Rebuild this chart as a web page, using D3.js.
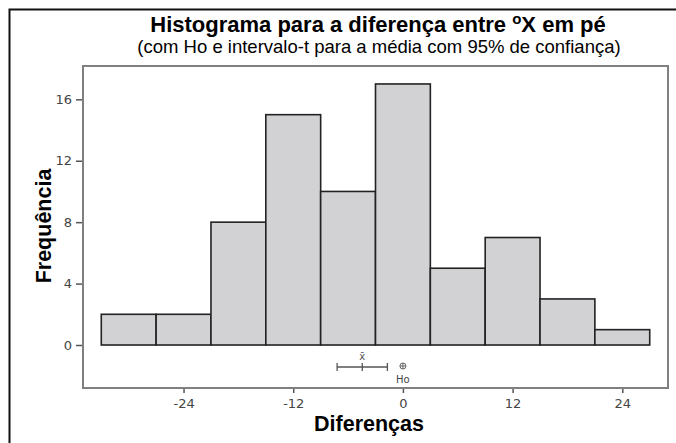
<!DOCTYPE html>
<html>
<head>
<meta charset="utf-8">
<script src="https://cdn.jsdelivr.net/npm/d3@7"></script>
<style>
  body { margin: 0; background: #fff; }
  svg { display: block; }
</style>
</head>
<body>
<svg id="chart" width="676" height="443"></svg>
<script>
// Histogram data (bin edges and counts).
const binEdges = [-33, -27, -21, -15, -9, -3, 3, 9, 15, 21, 27];
const counts = [2, 2, 8, 15, 10, 17, 5, 7, 3, 1];
const xTicks = [-24, -12, 0, 12, 24];
const yTicks = [0, 4, 8, 12, 16];
// t-interval for the mean and the null hypothesis value.
const ciLow = -7.2, ciMean = -4.45, ciHigh = -1.7;
const h0 = 0;

(function () {
  const svg = d3.select("#chart");
  const left = 83, right = 668, top = 66, bottom = 388;

  const x = d3.scaleLinear().domain([-35, 29]).range([left, right]);
  const y = d3.scaleLinear().domain([-2.8, 18.17]).range([bottom, top]);

  // Outer border of the figure.
  svg.append("path")
    .attr("d", "M9.5,443 L9.5,9.5 L676,9.5")
    .attr("fill", "none")
    .attr("stroke", "#111")
    .attr("stroke-width", 2);

  // Titles.
  const title = svg.append("text")
    .attr("x", 378)
    .attr("y", 32)
    .attr("text-anchor", "middle")
    .style("font-family", "'Liberation Sans', Arial, sans-serif")
    .style("font-weight", "bold")
    .style("font-size", "22px")
    .attr("fill", "#000");
  title.append("tspan").text("Histograma para a diferença entre ");
  title.append("tspan").attr("dy", -8).style("font-size", "15px").text("o");
  title.append("tspan").attr("dy", 8).text("X em pé");

  svg.append("text")
    .attr("x", 379)
    .attr("y", 53)
    .attr("text-anchor", "middle")
    .style("font-family", "'Liberation Sans', Arial, sans-serif")
    .style("font-size", "18.5px")
    .attr("fill", "#000")
    .text("(com Ho e intervalo-t para a média com 95% de confiança)");

  // Bars.
  const bins = counts.map((c, i) => ({ x0: binEdges[i], x1: binEdges[i + 1], n: c }));
  svg.append("g")
    .selectAll("rect")
    .data(bins)
    .enter()
    .append("rect")
    .attr("x", (d) => x(d.x0))
    .attr("y", (d) => y(d.n))
    .attr("width", (d) => x(d.x1) - x(d.x0))
    .attr("height", (d) => y(0) - y(d.n))
    .attr("fill", "#d2d2d4")
    .attr("stroke", "#222")
    .attr("stroke-width", 1.6);

  // Axes.
  const fmt = (d) => String(d);
  const xAxis = svg.append("g")
    .attr("transform", `translate(0,${bottom})`)
    .call(d3.axisBottom(x).tickValues(xTicks).tickFormat(fmt).tickSize(5).tickPadding(6));
  const yAxis = svg.append("g")
    .attr("transform", `translate(${left},0)`)
    .call(d3.axisLeft(y).tickValues(yTicks).tickFormat(fmt).tickSize(7).tickPadding(4));
  [xAxis, yAxis].forEach((g) => {
    g.select(".domain").remove();
    g.selectAll(".tick line").attr("stroke", "#555").attr("stroke-width", 1.5);
    g.selectAll(".tick text")
      .attr("fill", "#444")
      .style("font-family", "'DejaVu Sans', Verdana, sans-serif")
      .style("font-size", "13px");
  });

  // Plot frame.
  svg.append("rect")
    .attr("x", left)
    .attr("y", top)
    .attr("width", right - left)
    .attr("height", bottom - top)
    .attr("fill", "none")
    .attr("stroke", "#808080")
    .attr("stroke-width", 2);

  // Confidence interval for the mean.
  const ciY = 367;
  const ci = svg.append("g").attr("stroke", "#555").attr("stroke-width", 1.3);
  ci.append("line")
    .attr("x1", x(ciLow)).attr("x2", x(ciHigh))
    .attr("y1", ciY).attr("y2", ciY);
  [ciLow, ciMean, ciHigh].forEach((v) => {
    ci.append("line")
      .attr("x1", x(v)).attr("x2", x(v))
      .attr("y1", ciY - 4).attr("y2", ciY + 4);
  });
  svg.append("text")
    .attr("x", x(ciMean))
    .attr("y", 360)
    .attr("text-anchor", "middle")
    .style("font-family", "'DejaVu Sans', Verdana, sans-serif")
    .style("font-size", "10px")
    .attr("fill", "#555")
    .text("x̄");

  // Null hypothesis marker.
  const h = svg.append("g").attr("stroke", "#666").attr("stroke-width", 1);
  h.append("circle")
    .attr("cx", x(h0)).attr("cy", 366).attr("r", 3)
    .attr("fill", "none");
  h.append("line")
    .attr("x1", x(h0) - 3).attr("x2", x(h0) + 3)
    .attr("y1", 366).attr("y2", 366);
  h.append("line")
    .attr("x1", x(h0)).attr("x2", x(h0))
    .attr("y1", 363).attr("y2", 369);
  svg.append("text")
    .attr("x", x(h0))
    .attr("y", 383)
    .attr("text-anchor", "middle")
    .style("font-family", "'DejaVu Sans', Verdana, sans-serif")
    .style("font-size", "10px")
    .attr("fill", "#444")
    .text("Ho");

  // Axis titles.
  svg.append("text")
    .attr("x", 369)
    .attr("y", 431)
    .attr("text-anchor", "middle")
    .style("font-family", "'Liberation Sans', Arial, sans-serif")
    .style("font-weight", "bold")
    .style("font-size", "21.5px")
    .text("Diferenças");

  svg.append("text")
    .attr("transform", "translate(51,226) rotate(-90)")
    .attr("text-anchor", "middle")
    .style("font-family", "'Liberation Sans', Arial, sans-serif")
    .style("font-weight", "bold")
    .style("font-size", "21.5px")
    .text("Frequência");
})();
</script>
</body>
</html>
